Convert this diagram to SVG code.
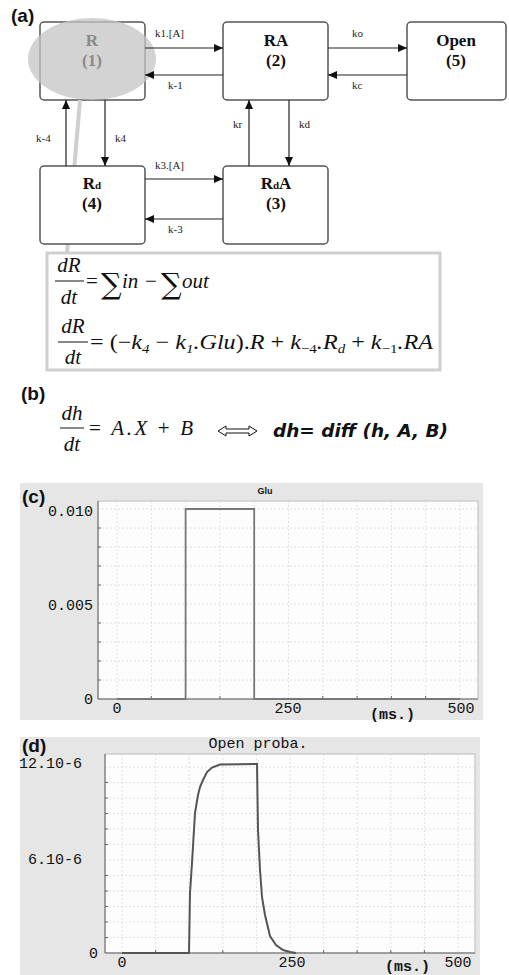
<svg xmlns="http://www.w3.org/2000/svg" width="509" height="975" viewBox="0 0 509 975">
<defs>
<marker id="ah" markerUnits="userSpaceOnUse" markerWidth="9" markerHeight="8" refX="9" refY="4" orient="auto">
<path d="M0,0 L9,4 L0,8 z" fill="#111"/>
</marker>
<style>
.box{fill:#fff;stroke:#555;stroke-width:1.5}
.bt{font-family:"Liberation Serif",serif;font-weight:bold;font-size:17px;text-anchor:middle;fill:#111}
.kl{font-family:"Liberation Serif",serif;font-size:11px;fill:#222}
.con line{stroke:#222;stroke-width:1.2;marker-end:url(#ah)}
.pl{font-family:"Liberation Sans",Arial,sans-serif;font-weight:bold;font-size:19px;fill:#111}
.eq{font-family:"Liberation Serif",serif;font-style:italic;font-size:21px;fill:#111}
.up{font-style:normal}
.sig{font-family:"DejaVu Serif",serif;font-size:29px;fill:#111}
.mono{font-family:"Liberation Mono","DejaVu Sans Mono",monospace;font-size:15px;fill:#111}
.grid line{stroke:#d8d8d8;stroke-width:0.8;stroke-dasharray:2,2}
.tick line{stroke:#666;stroke-width:1}
</style>
</defs>
<rect width="509" height="975" fill="#fff"/>
<text class="pl" x="11" y="22">(a)</text>
<g id="node-R">
<rect class="box" x="40" y="22" width="105" height="78" rx="4"/>
<ellipse cx="92" cy="59" rx="64" ry="41" fill="#c4c4c4" fill-opacity="0.75"/>
<text class="bt" x="92" y="46" style="fill:#8a8a8a">R</text>
<text class="bt" x="92" y="66" style="fill:#8a8a8a">(1)</text>
</g>
<line x1="80" y1="100" x2="67" y2="253" stroke="#cfcfcf" stroke-width="4"/>
<g id="node-RA">
<rect class="box" x="223" y="22" width="105" height="78" rx="4"/>
<text class="bt" x="276" y="46">RA</text>
<text class="bt" x="276" y="66">(2)</text>
</g>
<g id="node-Open">
<rect class="box" x="407" y="22" width="99" height="78" rx="4"/>
<text class="bt" x="456" y="46">Open</text>
<text class="bt" x="456" y="66">(5)</text>
</g>
<g id="node-Rd">
<rect class="box" x="40" y="166" width="105" height="78" rx="4"/>
<text class="bt" x="92" y="189">R<tspan font-size="11">d</tspan></text>
<text class="bt" x="92" y="209">(4)</text>
</g>
<g id="node-RdA">
<rect class="box" x="223" y="166" width="105" height="78" rx="4"/>
<text class="bt" x="276" y="189">R<tspan font-size="11">d</tspan>A</text>
<text class="bt" x="276" y="209">(3)</text>
</g>
<g id="connectors" class="con">
<line x1="145" y1="48" x2="223" y2="48"/>
<line x1="223" y1="75" x2="145" y2="75"/>
<line x1="328" y1="48" x2="407" y2="48"/>
<line x1="407" y1="75" x2="328" y2="75"/>
<line x1="66" y1="166" x2="66" y2="100"/>
<line x1="105" y1="100" x2="105" y2="166"/>
<line x1="249" y1="166" x2="249" y2="100"/>
<line x1="289" y1="100" x2="289" y2="166"/>
<line x1="145" y1="179" x2="223" y2="179"/>
<line x1="223" y1="219" x2="145" y2="219"/>
</g>
<g id="labels">
<text class="kl" x="155" y="37">k1.[A]</text>
<text class="kl" x="168" y="89">k-1</text>
<text class="kl" x="352" y="37">ko</text>
<text class="kl" x="352" y="89">kc</text>
<text class="kl" x="36" y="142">k-4</text>
<text class="kl" x="115" y="142">k4</text>
<text class="kl" x="233" y="128">kr</text>
<text class="kl" x="299" y="128">kd</text>
<text class="kl" x="155" y="169">k3.[A]</text>
<text class="kl" x="168" y="233">k-3</text>
</g>
<g id="equations">
<rect x="47" y="253" width="393" height="117" fill="#fff" stroke="#cfcfcf" stroke-width="3"/>
<text class="eq" x="69" y="272" text-anchor="middle">dR</text>
<line x1="55" y1="281" x2="84" y2="281" stroke="#111" stroke-width="1"/>
<text class="eq" x="69" y="304" text-anchor="middle">dt</text>
<text class="eq" x="86" y="288"><tspan class="up">=</tspan></text>
<text class="sig" x="101" y="294">∑</text>
<text class="eq" x="122" y="288">in</text>
<text class="eq" x="145" y="288"><tspan class="up">−</tspan></text>
<text class="sig" x="161" y="294">∑</text>
<text class="eq" x="182" y="288">out</text>
<text class="eq" x="73" y="333" text-anchor="middle">dR</text>
<line x1="58" y1="342" x2="88" y2="342" stroke="#111" stroke-width="1"/>
<text class="eq" x="73" y="364" text-anchor="middle">dt</text>
<text class="eq" x="90" y="349" textLength="343" lengthAdjust="spacingAndGlyphs"><tspan class="up">= (−</tspan>k<tspan font-size="13" dy="4">4</tspan><tspan class="up" dy="-4"> − </tspan>k<tspan font-size="13" dy="4">1</tspan><tspan dy="-4">.Glu</tspan><tspan class="up">).</tspan>R<tspan class="up"> + </tspan>k<tspan font-size="13" dy="4" class="up">−4</tspan><tspan dy="-4">.R</tspan><tspan font-size="13" dy="4">d</tspan><tspan class="up" dy="-4"> + </tspan>k<tspan font-size="13" dy="4" class="up">−1</tspan><tspan dy="-4">.RA</tspan></text>
</g>
<text class="pl" x="21" y="400">(b)</text>
<g id="eq-b">
<text class="eq" x="72" y="420" text-anchor="middle">dh</text>
<line x1="60" y1="428" x2="84" y2="428" stroke="#111" stroke-width="1"/>
<text class="eq" x="72" y="451" text-anchor="middle">dt</text>
<text class="eq" x="89" y="435" textLength="104" lengthAdjust="spacing"><tspan class="up">= </tspan>A.X<tspan class="up"> + </tspan>B</text>
<path d="M218,431 L226,426 L226,429 L249,429 L249,426 L257,431 L249,436 L249,433 L226,433 L226,436 Z" fill="#fff" stroke="#111" stroke-width="1"/>
<text x="273" y="437" font-family="'DejaVu Sans',sans-serif" font-weight="bold" font-style="italic" font-size="17" textLength="175" lengthAdjust="spacingAndGlyphs" fill="#111">dh= diff (h, A, B)</text>
</g>
<g id="chart-c">
<rect x="20" y="483" width="463" height="237" fill="#e6e6e6"/>
<rect x="98" y="501" width="380" height="198" fill="#fdfdfd" stroke="#bbb" stroke-width="1"/>
<g class="grid">
<line x1="117" y1="501" x2="117" y2="699"/><line x1="151.3" y1="501" x2="151.3" y2="699"/><line x1="185.6" y1="501" x2="185.6" y2="699"/><line x1="219.9" y1="501" x2="219.9" y2="699"/><line x1="254.2" y1="501" x2="254.2" y2="699"/><line x1="288.5" y1="501" x2="288.5" y2="699"/><line x1="322.8" y1="501" x2="322.8" y2="699"/><line x1="357.1" y1="501" x2="357.1" y2="699"/><line x1="391.4" y1="501" x2="391.4" y2="699"/><line x1="425.7" y1="501" x2="425.7" y2="699"/><line x1="460" y1="501" x2="460" y2="699"/>
<line x1="98" y1="509" x2="478" y2="509"/><line x1="98" y1="528" x2="478" y2="528"/><line x1="98" y1="547" x2="478" y2="547"/><line x1="98" y1="566" x2="478" y2="566"/><line x1="98" y1="585" x2="478" y2="585"/><line x1="98" y1="604" x2="478" y2="604"/><line x1="98" y1="623" x2="478" y2="623"/><line x1="98" y1="642" x2="478" y2="642"/><line x1="98" y1="661" x2="478" y2="661"/><line x1="98" y1="680" x2="478" y2="680"/>
</g>
<g class="tick">
<line x1="98" y1="699" x2="478" y2="699" stroke="#999"/>
<line x1="98" y1="501" x2="98" y2="699" stroke="#999"/>
<line x1="151.3" y1="699" x2="151.3" y2="696"/><line x1="219.9" y1="699" x2="219.9" y2="696"/><line x1="322.8" y1="699" x2="322.8" y2="696"/><line x1="357.1" y1="699" x2="357.1" y2="696"/><line x1="391.4" y1="699" x2="391.4" y2="696"/><line x1="425.7" y1="699" x2="425.7" y2="696"/>
<line x1="98" y1="528" x2="101" y2="528"/><line x1="98" y1="547" x2="101" y2="547"/><line x1="98" y1="566" x2="101" y2="566"/><line x1="98" y1="585" x2="101" y2="585"/><line x1="98" y1="623" x2="101" y2="623"/><line x1="98" y1="642" x2="101" y2="642"/><line x1="98" y1="661" x2="101" y2="661"/><line x1="98" y1="680" x2="101" y2="680"/>
</g>
<path d="M117,699 H185.6 V509 H254.2 V699 H460" fill="none" stroke="#777" stroke-width="1.8"/>
<text x="265" y="494" font-family="'Liberation Sans',sans-serif" font-weight="bold" font-size="9" text-anchor="middle" fill="#111">Glu</text>
<text class="pl" x="22" y="503">(c)</text>
<text class="mono" x="93" y="516" text-anchor="end">0.010</text>
<text class="mono" x="93" y="610" text-anchor="end">0.005</text>
<text class="mono" x="93" y="704" text-anchor="end">0</text>
<text class="mono" x="117" y="713" text-anchor="middle">0</text>
<text class="mono" x="288" y="713" text-anchor="middle">250</text>
<text class="mono" x="461" y="713" text-anchor="middle">500</text>
<text class="mono" x="370" y="719" font-weight="bold">(ms.)</text>
</g>
<g id="chart-d">
<rect x="20" y="737" width="460" height="238" fill="#e6e6e6"/>
<rect x="105" y="754" width="370" height="199" fill="#fdfdfd" stroke="#bbb" stroke-width="1"/>
<g class="grid">
<line x1="122" y1="754" x2="122" y2="953"/><line x1="155.6" y1="754" x2="155.6" y2="953"/><line x1="189.2" y1="754" x2="189.2" y2="953"/><line x1="222.8" y1="754" x2="222.8" y2="953"/><line x1="256.4" y1="754" x2="256.4" y2="953"/><line x1="290" y1="754" x2="290" y2="953"/><line x1="323.6" y1="754" x2="323.6" y2="953"/><line x1="357.2" y1="754" x2="357.2" y2="953"/><line x1="390.8" y1="754" x2="390.8" y2="953"/><line x1="424.4" y1="754" x2="424.4" y2="953"/><line x1="458" y1="754" x2="458" y2="953"/>
<line x1="105" y1="767" x2="475" y2="767"/><line x1="105" y1="782.5" x2="475" y2="782.5"/><line x1="105" y1="798" x2="475" y2="798"/><line x1="105" y1="813.5" x2="475" y2="813.5"/><line x1="105" y1="829" x2="475" y2="829"/><line x1="105" y1="844.5" x2="475" y2="844.5"/><line x1="105" y1="860" x2="475" y2="860"/><line x1="105" y1="875.5" x2="475" y2="875.5"/><line x1="105" y1="891" x2="475" y2="891"/><line x1="105" y1="906.5" x2="475" y2="906.5"/><line x1="105" y1="922" x2="475" y2="922"/><line x1="105" y1="937.5" x2="475" y2="937.5"/>
</g>
<g class="tick">
<line x1="105" y1="953" x2="475" y2="953" stroke="#999"/>
<line x1="105" y1="754" x2="105" y2="953" stroke="#999"/>
<line x1="155.6" y1="953" x2="155.6" y2="950"/><line x1="222.8" y1="953" x2="222.8" y2="950"/><line x1="323.6" y1="953" x2="323.6" y2="950"/><line x1="357.2" y1="953" x2="357.2" y2="950"/><line x1="390.8" y1="953" x2="390.8" y2="950"/><line x1="424.4" y1="953" x2="424.4" y2="950"/>
<line x1="105" y1="782.5" x2="108" y2="782.5"/><line x1="105" y1="798" x2="108" y2="798"/><line x1="105" y1="813.5" x2="108" y2="813.5"/><line x1="105" y1="829" x2="108" y2="829"/><line x1="105" y1="844.5" x2="108" y2="844.5"/><line x1="105" y1="875.5" x2="108" y2="875.5"/><line x1="105" y1="891" x2="108" y2="891"/><line x1="105" y1="906.5" x2="108" y2="906.5"/><line x1="105" y1="922" x2="108" y2="922"/><line x1="105" y1="937.5" x2="108" y2="937.5"/>
</g>
<path d="M122,953 L189,953 L190,893 L192,863 L195,813 L198,795 L200,787 L203,780 L207,772 L212,767.5 L220,764.5 L257,764 L258,830 L260,870 L262,897 L265,915 L270,936 L276,945 L283,950 L290,952 L296,953" fill="none" stroke="#555" stroke-width="2"/>
<text class="mono" x="258" y="748" text-anchor="middle">Open proba.</text>
<text class="pl" x="22" y="752">(d)</text>
<text class="mono" x="82" y="768" text-anchor="end">12.10-6</text>
<text class="mono" x="82" y="864" text-anchor="end">6.10-6</text>
<text class="mono" x="98" y="958" text-anchor="end">0</text>
<text class="mono" x="122" y="967" text-anchor="middle">0</text>
<text class="mono" x="292" y="967" text-anchor="middle">250</text>
<text class="mono" x="458" y="967" text-anchor="middle">500</text>
<text class="mono" x="385" y="971" font-weight="bold">(ms.)</text>
</g>
</svg>
